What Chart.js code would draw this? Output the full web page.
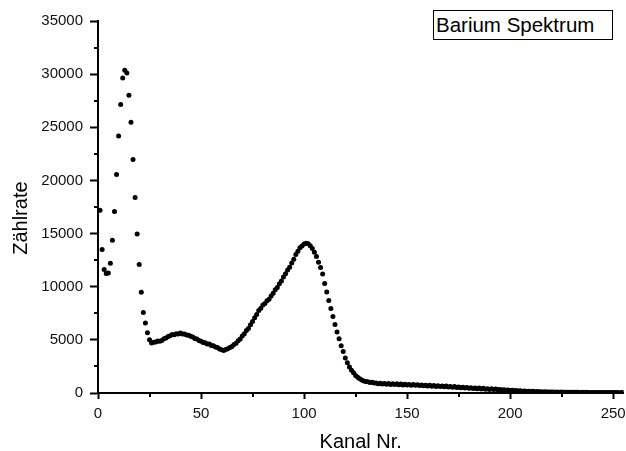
<!DOCTYPE html>
<html><head><meta charset="utf-8">
<script src="https://cdn.jsdelivr.net/npm/chart.js@4"></script>
<style>
html,body{margin:0;padding:0;background:#fff;overflow:hidden}
#wrap{position:relative;width:626px;height:451px}
#legend{position:absolute;left:433px;top:10px;width:176px;height:28px;border:1px solid #000;font:20.5px 'Liberation Sans',Arial,sans-serif;line-height:28px;padding-left:2px;color:#000;white-space:nowrap;background:#fff}
</style></head><body>
<div id="wrap"><canvas id="c" width="626" height="451"></canvas><div id="legend">Barium Spektrum</div></div>
<script>
const channels = [
  1,2,3,4,5,6,7,8,9,10,11,12,13,14,15,16,17,18,19,20,21,22,23,24,25,
  26,27,28,29,30,31,32,33,34,35,36,37,38,39,40,41,42,43,44,45,46,47,48,49,50,
  51,52,53,54,55,56,57,58,59,60,61,62,63,64,65,66,67,68,69,70,71,72,73,74,75,
  76,77,78,79,80,81,82,83,84,85,86,87,88,89,90,91,92,93,94,95,96,97,98,99,100,
  101,102,103,104,105,106,107,108,109,110,111,112,113,114,115,116,117,118,119,120,
  121,122,123,124,125,126,127,128,129,130,131,132,133,134,135,136,137,138,139,140,
  141,142,143,144,145,146,147,148,149,150,151,152,153,154,155,156,157,158,159,160,
  161,162,163,164,165,166,167,168,169,170,171,172,173,174,175,176,177,178,179,180,
  181,182,183,184,185,186,187,188,189,190,191,192,193,194,195,196,197,198,199,200,
  201,202,203,204,205,206,207,208,209,210,211,212,213,214,215,216,217,218,219,220,
  221,222,223,224,225,226,227,228,229,230,231,232,233,234,235,236,237,238,239,240,
  241,242,243,244,245,246,247,248,249,250,251,252,253,254,255
];
const counts = [
  17190,13490,11610,11235,11290,12200,14370,17070,20550,24180,27140,29640,30370,30110,28010,25470,21960,18390,14960,12080,9475,7565,6590,5680,5020,
  4700,4780,4800,4900,4870,4950,5100,5180,5320,5380,5500,5480,5580,5560,5640,5560,5540,5460,5440,5330,5280,5130,5070,4930,4880,
  4760,4720,4620,4600,4480,4440,4330,4280,4130,4080,4000,4100,4160,4270,4380,4570,4680,4920,5080,5370,5580,5870,6080,6420,6730,
  7070,7380,7770,7980,8270,8430,8670,8830,9120,9380,9720,9930,10270,10530,10920,11230,11570,11830,12220,12580,13020,13330,13670,13840,14010,
  14100,14050,13850,13600,13250,12850,12300,11800,11200,10300,9500,8700,7950,7200,6450,5750,5100,4450,3900,3300,
  2850,2450,2150,1900,1650,1480,1330,1220,1140,1080,1070,990,1010,930,940,880,910,850,890,820,
  890,800,870,790,860,770,850,760,830,750,790,730,800,720,780,700,760,680,740,660,
  720,640,700,620,690,600,670,580,650,560,620,540,600,510,570,490,550,460,520,440,
  500,420,480,400,460,380,440,360,410,340,390,320,370,300,340,280,310,250,280,220,
  250,200,230,180,210,170,190,150,170,140,160,120,140,110,125,100,115,90,105,85,
  95,80,90,75,85,70,80,65,75,60,70,60,65,55,65,50,60,50,55,50,
  50,55,45,55,45,45,50,40,50,40,40,45,35,45,40
];
const xMajorTicks = [0,50,100,150,200,250];
const xMinorTicks = [25,75,125,175,225];
const yMajorTicks = [0,5000,10000,15000,20000,25000,30000,35000];
const yMinorTicks = [2500,7500,12500,17500,22500,27500,32500];
const xTitle = 'Kanal Nr.';
const yTitle = 'Zählrate';
const seriesName = 'Barium Spektrum';

const FONT = "'Liberation Sans', Arial, sans-serif";

const minorTickPlugin = {
  id: 'minorTicks',
  afterDraw(chart) {
    const ctx = chart.ctx, xs = chart.scales.x, ys = chart.scales.y;
    ctx.save();
    ctx.strokeStyle = '#000';
    ctx.lineWidth = 2;
    xMinorTicks.forEach(v => {
      const px = Math.round(xs.getPixelForValue(v));
      ctx.beginPath(); ctx.moveTo(px, xs.top); ctx.lineTo(px, xs.top + 4); ctx.stroke();
    });
    yMinorTicks.forEach(v => {
      const py = Math.round(ys.getPixelForValue(v));
      ctx.beginPath(); ctx.moveTo(ys.right, py); ctx.lineTo(ys.right - 4, py); ctx.stroke();
    });
    ctx.restore();
  }
};

new Chart(document.getElementById('c'), {
  type: 'scatter',
  data: {
    datasets: [{
      label: seriesName,
      data: channels.map((c, i) => ({x: c, y: counts[i]})),
      pointRadius: 2.5,
      pointBackgroundColor: '#000',
      pointBorderWidth: 0,
      pointHoverRadius: 2.5,
      showLine: false
    }]
  },
  options: {
    responsive: false,
    animation: false,
    devicePixelRatio: 1,
    layout: {padding: {top: 21, right: 0, bottom: 0, left: 0}},
    plugins: {legend: {display: false}, tooltip: {enabled: false}},
    scales: {
      x: {
        type: 'linear', min: 0, max: 255,
        afterBuildTicks: s => { s.ticks = xMajorTicks.map(v => ({value: v})); },
        afterFit: s => { s.height = 58; s.paddingRight = 0; },
        ticks: {includeBounds: false, stepSize: 50, padding: 6, color: '#111', font: {family: FONT, size: 15}, callback: v => String(v), maxRotation: 0},
        grid: {display: true, drawOnChartArea: false, drawTicks: true, tickLength: 6, tickWidth: 2, tickColor: '#000'},
        border: {display: true, color: '#000', width: 2},
        title: {display: true, text: xTitle, color: '#000', font: {family: FONT, size: 20, lineHeight: 0.86}, padding: 0}
      },
      y: {
        type: 'linear', min: 0, max: 35000,
        afterBuildTicks: s => { s.ticks = yMajorTicks.map(v => ({value: v})); },
        afterFit: s => { s.width = 98; },
        ticks: {stepSize: 5000, padding: 7, color: '#111', font: {family: FONT, size: 15}, callback: v => String(v)},
        grid: {display: true, drawOnChartArea: false, drawTicks: true, tickLength: 8, tickWidth: 2, tickColor: '#000'},
        border: {display: true, color: '#000', width: 2},
        title: {display: true, text: yTitle + '    ', color: '#000', font: {family: FONT, size: 20}, padding: {top: 9, bottom: 0}}
      }
    }
  },
  plugins: [minorTickPlugin]
});
</script>
</body></html>
